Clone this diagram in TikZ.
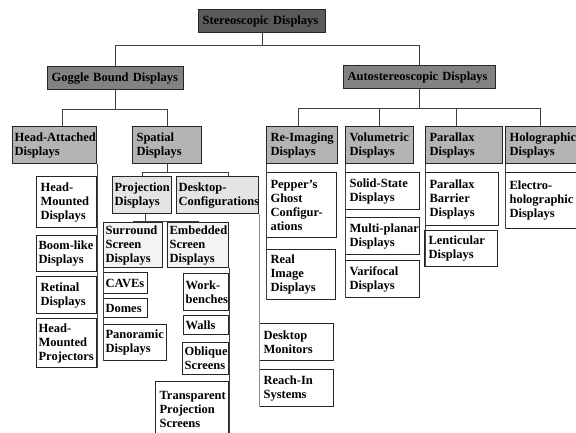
\documentclass[tikz,border=0pt]{standalone}
\usepackage{fontspec}
\setmainfont{Liberation Serif}
\usetikzlibrary{positioning}
\definecolor{rootgray}{HTML}{5A5A5A}
\definecolor{maingray}{HTML}{828282}
\definecolor{catgray}{HTML}{B4B4B4}
\definecolor{subgray}{HTML}{E4E4E4}
\definecolor{subsubgray}{HTML}{F3F3F3}

\begin{document}
\begin{tikzpicture}[x=1pt,y=-1pt,
  every node/.style={draw=black!85,line width=1.1pt,anchor=north west,align=left,
    inner xsep=4pt,inner ysep=1pt,font=\fontsize{12.5pt}{14pt}\selectfont\bfseries,
    execute at begin node={\hyphenpenalty=10000\exhyphenpenalty=10000}},
  root/.style={fill=rootgray},
  main/.style={fill=maingray},
  cat/.style={fill=catgray},
  sub/.style={fill=subgray},
  subsub/.style={fill=subsubgray},
  leaf/.style={fill=white},
  link/.style={draw=black!75,line width=0.9pt}]
  \useasboundingbox (0,0) rectangle (576,433);

  \node[root,text width=119pt,minimum height=23pt] (stereo) at (198,9) {Stereoscopic Displays};
  \node[main,text width=128pt,minimum height=23pt] (goggle) at (47,66) {Goggle Bound Displays};
  \node[main,text width=144pt,minimum height=23pt] (auto) at (343,65) {Autostereoscopic Displays};

  \node[cat,text width=80pt,minimum height=37pt,inner xsep=2pt] (head) at (12,126) {Head-Attached\\Displays};
  \node[cat,text width=61pt,minimum height=37pt] (spatial) at (132,126) {Spatial\\Displays};
  \node[cat,text width=63pt,minimum height=37pt] (reimg) at (266,126) {Re-Imaging\\Displays};
  \node[cat,text width=60pt,minimum height=37pt] (volum) at (345,126) {Volumetric\\Displays};
  \node[cat,text width=69pt,minimum height=37pt] (parax) at (425,126) {Parallax\\Displays};
  \node[cat,text width=68pt,minimum height=37pt] (holo) at (505,126) {Holographic\\Displays};

  \node[leaf,text width=52pt,minimum height=51pt] (hmd) at (36,176) {Head-\\Mounted\\Displays};
  \node[leaf,text width=56pt,minimum height=36pt,inner xsep=2pt] (boom) at (36,235) {Boom-like\\Displays};
  \node[leaf,text width=52pt,minimum height=37pt] (retinal) at (36,276) {Retinal\\Displays};
  \node[leaf,text width=56pt,minimum height=49pt,inner xsep=2pt] (hmp) at (36,318) {Head-\\Mounted\\Projectors};

  \node[sub,text width=55pt,minimum height=37pt,inner xsep=2pt] (proj) at (112,176) {Projection\\Displays};
  \node[sub,text width=78pt,minimum height=37pt,inner xsep=2pt] (deskcfg) at (176,176) {Desktop-\\Configurations};
  \node[subsub,text width=55pt,minimum height=45pt,inner xsep=2pt] (surr) at (103,222) {Surround\\Screen\\Displays};
  \node[subsub,text width=57pt,minimum height=45pt,inner xsep=2pt] (embed) at (167,222) {Embedded\\Screen\\Displays};

  \node[leaf,text width=40pt,minimum height=21pt,inner xsep=2pt] (caves) at (103,272) {CAVEs};
  \node[leaf,text width=40pt,minimum height=19pt,inner xsep=2pt] (domes) at (103,298) {Domes};
  \node[leaf,text width=59pt,minimum height=36pt,inner xsep=2pt] (panor) at (103,324) {Panoramic\\Displays};
  \node[leaf,text width=41pt,minimum height=37pt,inner xsep=2pt] (bench) at (183,273) {Work-\\benches};
  \node[leaf,text width=41pt,minimum height=19pt,inner xsep=2pt] (walls) at (183,315) {Walls};
  \node[leaf,text width=42pt,minimum height=32pt,inner xsep=2pt] (obliq) at (182,342) {Oblique\\Screens};
  \node[leaf,text width=65pt,minimum height=55pt] (transp) at (155,381) {Transparent\\Projection\\Screens};

  \node[leaf,text width=66pt,minimum height=37pt] (monit) at (259,323) {Desktop\\Monitors};
  \node[leaf,text width=66pt,minimum height=37pt] (reach) at (259,369) {Reach-In\\Systems};

  \node[leaf,text width=62pt,minimum height=65pt] (pepper) at (266,172) {Pepper's\\Ghost\\Configur-\\ations};
  \node[leaf,text width=61pt,minimum height=50pt] (realimg) at (266,249) {Real\\Image\\Displays};

  \node[leaf,text width=66pt,minimum height=37pt] (solid) at (345,172) {Solid-State\\Displays};
  \node[leaf,text width=66pt,minimum height=37pt] (multi) at (345,217) {Multi-planar\\Displays};
  \node[leaf,text width=66pt,minimum height=37pt] (varif) at (345,260) {Varifocal\\Displays};

  \node[leaf,text width=65pt,minimum height=53pt] (barrier) at (425,172) {Parallax\\Barrier\\Displays};
  \node[leaf,text width=65pt,minimum height=36pt] (lentic) at (424,230) {Lenticular\\Displays};

  \node[leaf,text width=68pt,minimum height=56pt] (electro) at (505,172) {Electro-\\holographic\\Displays};

  \draw[link] (stereo.south) -- ++(0,12) coordinate (s1) -| (goggle.north);
  \draw[link] (s1) -| (auto.north);
  \draw[link] (goggle.south) -- ++(0,19) coordinate (g1) -| ([xshift=8pt]head.north);
  \draw[link] (g1) -| (spatial.north);
  \draw[link] (auto.south) -- ++(0,19) coordinate (a1) -| ([xshift=-4pt]reimg.north);
  \draw[link] (a1) -| (volum.north);
  \draw[link] (a1) -| ([xshift=-8pt]parax.north);
  \draw[link] (a1) -| ([xshift=-3pt]holo.north);
  \draw[link] (spatial.south) -- ++(0,8) coordinate (p1) -| (proj.north);
  \draw[link] (p1) -| ([xshift=11pt]deskcfg.north);
  \draw[link] ([xshift=3pt]proj.south) -- ++(0,7) coordinate (p2) -| (surr.north);
  \draw[link] (p2) -| (embed.north);

  \draw[link] (head.south east) -- (head.south east |- hmp.south east);
  \draw[link] (surr.south west) -- (surr.south west |- panor.south west);
  \draw[link] (embed.south east) -- (embed.south east |- transp.south east);
  \draw[link,draw=black!45] (deskcfg.south east) -- (deskcfg.south east |- reach.south west);
  \draw[link] (reimg.south west) -- (reimg.south west |- realimg.south west);
  \draw[link] (volum.south west) -- (volum.south west |- varif.south west);
  \draw[link] (parax.south west) -- (parax.south west |- lentic.south west);
  \draw[link] (holo.south west) -- (holo.south west |- electro.south west);
\end{tikzpicture}
\end{document}
